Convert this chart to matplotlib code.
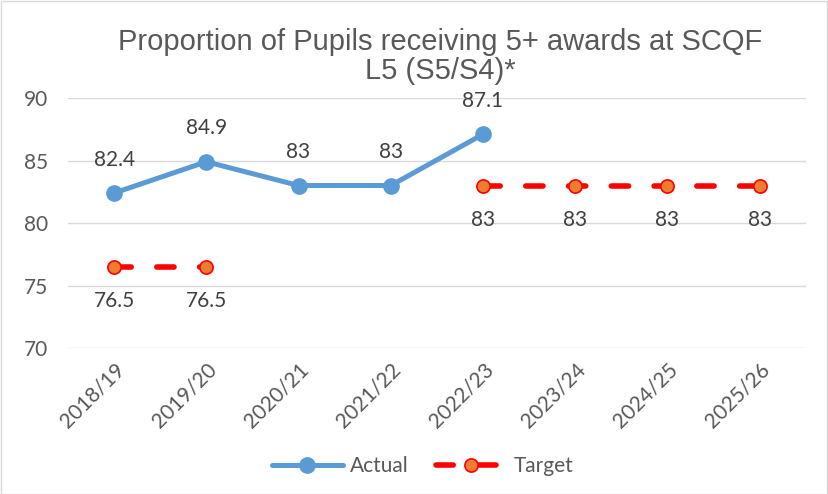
import matplotlib
matplotlib.use("Agg")
import matplotlib.pyplot as plt
import numpy as np

categories = ["2018/19", "2019/20", "2020/21", "2021/22", "2022/23", "2023/24", "2024/25", "2025/26"]
actual = [82.4, 84.9, 83, 83, 87.1, None, None, None]
target = [76.5, 76.5, None, None, 83, 83, 83, 83]
yticks = [70, 75, 80, 85, 90]

plt.rcParams['font.family'] = ['Lato', 'DejaVu Sans']
grey = '#595959'
fs = 15

fig = plt.figure(figsize=(8.29, 4.94), dpi=100)
fig.patch.set_facecolor('white')
fig.add_artist(plt.Rectangle((0.001, 0.001), 0.997, 0.997, transform=fig.transFigure,
                             fill=False, edgecolor='#d9d9d9', linewidth=1))
ax = fig.add_axes([0.082, 0.2955, 0.890, 0.5061])

x = np.arange(len(categories))
a = np.array([np.nan if v is None else v for v in actual], dtype=float)
t = np.array([np.nan if v is None else v for v in target], dtype=float)

ax.plot(x, a, color='#5B9BD5', linewidth=3.6, marker='o', markersize=11,
        markerfacecolor='#5B9BD5', markeredgecolor='#5B9BD5', label='Actual', zorder=3,
        solid_capstyle='round')
ax.plot(x, t, color='#FF0000', linewidth=4, linestyle=(0, (3.1, 4.6)), marker='o', markersize=9.5,
        markerfacecolor='#ED7D31', markeredgecolor='#FF0000', markeredgewidth=1.2,
        label='Target', zorder=3, dash_capstyle='round')

for xi, v in zip(x, actual):
    if v is not None:
        ax.annotate(f"{v:g}", (xi, v), xytext=(0, 24), textcoords='offset points',
                    ha='center', va='center', fontsize=fs, color='#404040')
for xi, v in zip(x, target):
    if v is not None:
        ax.annotate(f"{v:g}", (xi, v), xytext=(0, -25), textcoords='offset points',
                    ha='center', va='center', fontsize=fs, color='#404040')

ax.set_xlim(-0.5, len(categories) - 0.5)
ax.set_ylim(70, 90)
ax.set_yticks(yticks)
ax.set_yticklabels([str(v) for v in yticks], fontsize=fs, color=grey)
ax.set_xticks(x)
ax.set_xticklabels(categories, rotation=45, ha='right', rotation_mode='anchor',
                   fontsize=fs, color=grey)
ax.grid(axis='y', color='#d9d9d9', linewidth=1)
ax.set_axisbelow(True)
for s in ['top', 'right', 'left', 'bottom']:
    ax.spines[s].set_visible(False)
ax.tick_params(axis='y', length=0, pad=14)
ax.tick_params(axis='x', length=0, pad=8)

fig.text(0.531, 0.885, "Proportion of Pupils receiving 5+ awards at SCQF\nL5 (S5/S4)*",
         ha='center', va='center', fontsize=21, color=grey, linespacing=1.05,
         family=['Liberation Sans', 'DejaVu Sans'])

leg = fig.legend(loc='center', bbox_to_anchor=(0.51, 0.057), ncol=2, frameon=False,
                 fontsize=fs, handlelength=3.4, handletextpad=0.35, columnspacing=1.3,
                 labelcolor=grey)

fig.savefig("out.png", dpi=100)
